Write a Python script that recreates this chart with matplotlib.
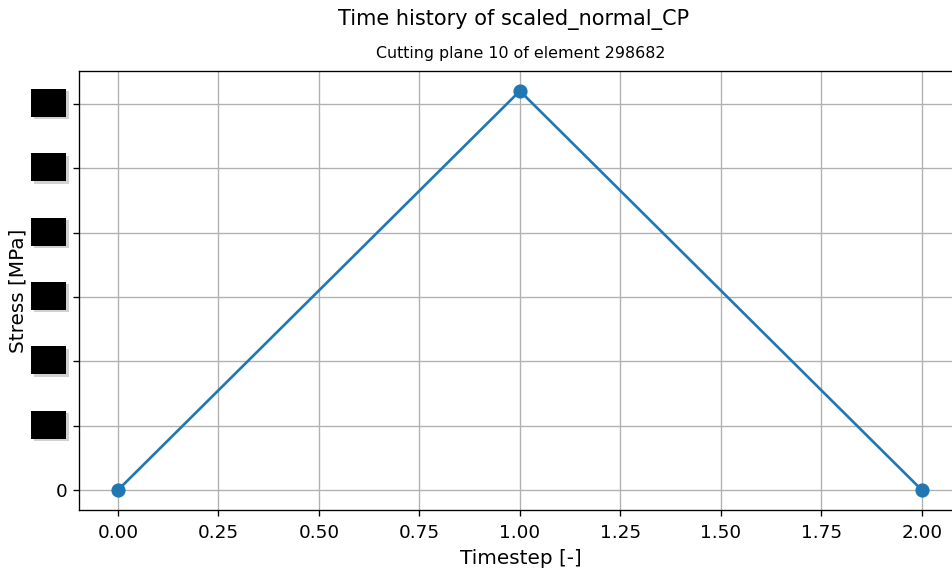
import matplotlib
matplotlib.use("Agg")
import matplotlib.pyplot as plt
import matplotlib.patheffects as pe
from matplotlib.patches import Rectangle
import matplotlib.transforms as mtransforms

# Time history data
timesteps = [0.0, 1.0, 2.0]
stress = [0.0, 310.0, 0.0]
ytick_values = [0, 50, 100, 150, 200, 250, 300]

title = "Time history of scaled_normal_CP"
subtitle = "Cutting plane 10 of element 298682"

fig = plt.figure(figsize=(952 / 120, 571 / 120), dpi=120)
ax = fig.add_axes([79 / 952, 1 - 510 / 571, (962 - 79) / 952, (510 - 71) / 571])

ax.plot(timesteps, stress, marker="o", color="#1f77b4", linewidth=1.6, markersize=7.5)
ax.grid(True)
ax.set_xlim(-0.097, 2.1)
ax.set_xticks([0, 0.25, 0.5, 0.75, 1.0, 1.25, 1.5, 1.75, 2.0])
ax.set_xticklabels(["0.00", "0.25", "0.50", "0.75", "1.00", "1.25", "1.50", "1.75", "2.00"])
ax.set_yticks(ytick_values)
ax.set_yticklabels(["0"] + [""] * (len(ytick_values) - 1))
ax.tick_params(labelsize=11)
ax.tick_params(axis="x", pad=5)
ax.set_ylim(-0.05 * max(stress), 1.05 * max(stress))
ax.set_xlabel("Timestep [-]", fontsize=12)
ax.set_ylabel("Stress [MPa]", fontsize=12)
ax.yaxis.set_label_coords((28 - 79) / 883, 0.5)
ax.xaxis.set_label_coords(0.5, -(549 - 510) / 439)
ax.set_title(subtitle, fontsize=9.5, pad=8)
fig.text(0.5 * (79 + 962) / 952 - 0.007, 1 - 20 / 571, title, ha="center", va="center", fontsize=12.5)

# Masked tick labels: black boxes with a soft shadow
trans = mtransforms.blended_transform_factory(ax.transAxes, ax.transData)
px_per_unit = (510 - 71) / (ax.get_ylim()[1] - ax.get_ylim()[0])
box_h = 28 / px_per_unit
box_x0 = (31 - 79) / 883
box_w = 35 / 883
for v in ytick_values[1:]:
    r = Rectangle((box_x0, v - box_h / 2 + 1 / px_per_unit), box_w, box_h,
                  transform=trans, facecolor="black", edgecolor="none",
                  clip_on=False, zorder=6)
    r.set_path_effects([pe.SimplePatchShadow(offset=(1.5, -1.5), shadow_rgbFace="0.6", alpha=0.45),
                        pe.Normal()])
    ax.add_patch(r)

fig.savefig("out.png", dpi=120)
